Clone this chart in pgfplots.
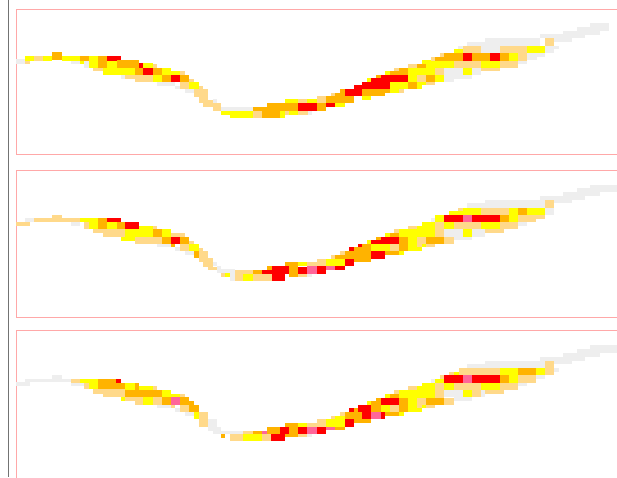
\documentclass[border=0pt]{standalone}
\usepackage{pgfplots}
\pgfplotsset{compat=1.18}
\definecolor{G}{HTML}{EEEEEE}
\definecolor{L}{HTML}{FFD98A}
\definecolor{Y}{HTML}{FFFF00}
\definecolor{O}{HTML}{FFB300}
\definecolor{R}{HTML}{FF0000}
\definecolor{P}{HTML}{FF6699}
\definecolor{frame}{HTML}{FFA8A8}
% cells: colour, x from, x to, y from, y to (values are 3x reference pixels)
\newcommand{\R}[5]{\addplot[draw=none,fill=#1,forget plot] coordinates {(#2,#4)(#3,#4)(#3,#5)(#2,#5)} --cycle;}
% right-hand half: x counted from reference pixel 307
\newcommand{\Q}[5]{\pgfmathsetmacro\xa{#2+921}\pgfmathsetmacro\xb{#3+921}\addplot[draw=none,fill=#1,forget plot] coordinates {(\xa,#4)(\xb,#4)(\xb,#5)(\xa,#5)} --cycle;}
\pgfplotsset{panel/.style={scale only axis,width=624pt,xmin=48,xmax=1920,y dir=reverse,anchor=north west,
  ticks=none,axis line style={draw=frame,line width=0.9pt},clip=true}}
\begin{document}
\begin{tikzpicture}[x=1pt,y=1pt]
\clip (0,0) rectangle (617,-477);
\path[use as bounding box] (0,0) rectangle (617,-477);
\begin{axis}[at={(0pt,0pt)},anchor=north west,scale only axis,width=617pt,height=477pt,xmin=0,xmax=617,ymin=0,ymax=477,y dir=reverse,hide axis]
\addplot[draw=black!55,line width=1pt,forget plot] coordinates {(8.5,0)(8.5,477)};
\end{axis}

% ---------- panel 1
\begin{axis}[panel,at={(16pt,-9pt)},height=145.3pt,ymin=27,ymax=463]
\R{G}{48}{75}{178}{192}\R{G}{212}{252}{182}{192}\R{G}{252}{267}{182}{203}\R{G}{364}{376}{225}{236}
\R{G}{472}{526}{247}{258}\R{G}{526}{540}{258}{268}\R{G}{554}{582}{268}{279}\R{G}{638}{652}{298}{310}\R{G}{652}{664}{310}{322}\R{G}{664}{760}{322}{333}\R{G}{921}{936}{333}{344}
\Q{G}{480}{535}{125}{137}\Q{G}{452}{480}{137}{147}\Q{G}{535}{700}{114}{137}\Q{G}{522}{578}{137}{158}\Q{G}{700}{768}{103}{115}\Q{G}{740}{795}{115}{125}\Q{G}{768}{835}{93}{115}\Q{G}{810}{880}{82}{105}\Q{G}{850}{907}{70}{93}\Q{G}{714}{755}{137}{147}\Q{G}{714}{742}{147}{158}\Q{G}{660}{715}{158}{170}\Q{G}{660}{690}{170}{180}\Q{G}{632}{660}{182}{192}\Q{G}{412}{468}{203}{225}\Q{G}{412}{440}{225}{247}\Q{G}{440}{495}{225}{236}\Q{G}{495}{522}{203}{225}
\R{Y}{75}{102}{168}{182}\R{L}{75}{90}{182}{192}\R{L}{102}{130}{168}{182}\R{Y}{130}{157}{168}{182}\R{O}{157}{186}{157}{181}\R{Y}{186}{240}{168}{182}
\R{Y}{240}{252}{182}{192}\R{O}{240}{267}{168}{182}\R{Y}{267}{294}{168}{203}\R{O}{294}{322}{168}{203}\R{R}{322}{364}{168}{182}\R{Y}{322}{350}{182}{203}\R{O}{350}{418}{180}{203}
\R{L}{280}{308}{203}{214}\R{Y}{308}{404}{203}{225}\R{O}{404}{430}{203}{225}\R{R}{418}{430}{190}{203}\R{Y}{430}{458}{190}{203}\R{L}{458}{472}{192}{203}\R{R}{430}{458}{203}{225}\R{O}{458}{486}{203}{225}\R{Y}{486}{514}{203}{225}\R{Y}{514}{540}{214}{225}\R{L}{540}{555}{214}{225}
\R{L}{376}{404}{225}{236}\R{L}{404}{458}{225}{247}\R{Y}{458}{486}{225}{247}\R{O}{486}{512}{225}{247}\R{R}{512}{540}{225}{247}\R{O}{540}{568}{225}{247}\R{L}{568}{582}{236}{247}
\R{L}{540}{568}{247}{268}\R{Y}{568}{596}{247}{268}\R{L}{596}{610}{258}{268}\R{L}{582}{624}{268}{290}\R{L}{596}{624}{290}{310}\R{L}{610}{638}{300}{322}\R{L}{624}{664}{310}{322}\R{L}{638}{664}{322}{333}
\R{Y}{664}{690}{333}{344}\R{Y}{690}{760}{333}{355}\R{L}{760}{786}{333}{355}\R{O}{760}{800}{322}{333}\R{O}{786}{840}{333}{355}\R{O}{800}{895}{310}{333}\R{Y}{840}{856}{333}{355}\R{Y}{856}{895}{298}{310}\R{L}{895}{921}{298}{310}\R{L}{856}{868}{333}{344}\R{Y}{868}{895}{333}{344}\R{L}{895}{925}{333}{344}\R{R}{895}{921}{310}{333}
\Q{Y}{0}{30}{298}{310}\Q{R}{0}{30}{310}{333}\Q{L}{30}{58}{288}{310}\Q{O}{30}{58}{310}{333}\Q{O}{58}{140}{288}{310}\Q{R}{58}{85}{310}{322}\Q{Y}{85}{113}{310}{322}\Q{O}{85}{113}{278}{288}\Q{L}{72}{85}{278}{288}\Q{O}{98}{113}{266}{278}
\Q{R}{113}{165}{267}{289}\Q{R}{140}{165}{256}{267}\Q{R}{165}{248}{245}{267}\Q{R}{193}{248}{235}{245}\Q{R}{222}{302}{225}{245}\Q{O}{165}{248}{267}{278}\Q{O}{165}{235}{278}{289}\Q{Y}{165}{193}{289}{300}\Q{Y}{248}{302}{245}{267}\Q{Y}{248}{276}{267}{278}\Q{L}{276}{290}{267}{278}\Q{Y}{180}{193}{235}{245}\Q{O}{207}{222}{225}{235}\Q{Y}{234}{248}{214}{225}\Q{O}{248}{276}{214}{225}\Q{O}{276}{302}{203}{225}\Q{L}{262}{276}{203}{214}
\Q{Y}{302}{330}{203}{245}\Q{Y}{330}{358}{203}{225}\Q{Y}{358}{385}{180}{225}\Q{L}{385}{412}{203}{225}\Q{O}{302}{330}{245}{267}\Q{Y}{330}{344}{245}{267}\Q{Y}{344}{358}{245}{256}\Q{L}{330}{358}{225}{245}\Q{O}{358}{385}{225}{245}\Q{Y}{385}{412}{225}{245}\Q{L}{358}{385}{245}{256}\Q{L}{302}{330}{192}{203}\Q{O}{330}{358}{192}{203}\Q{Y}{344}{358}{180}{192}
\Q{Y}{385}{440}{182}{203}\Q{L}{440}{522}{182}{203}\Q{Y}{522}{578}{182}{203}\Q{L}{578}{632}{182}{203}\Q{L}{522}{578}{203}{213}\Q{Y}{468}{495}{203}{225}
\Q{O}{385}{412}{170}{182}\Q{L}{372}{385}{170}{182}\Q{L}{398}{412}{158}{170}\Q{O}{412}{468}{158}{182}\Q{Y}{440}{468}{148}{158}\Q{R}{468}{495}{158}{182}\Q{O}{495}{550}{158}{182}\Q{R}{550}{578}{158}{182}\Q{O}{578}{605}{158}{182}\Q{Y}{605}{632}{158}{182}\Q{L}{632}{660}{158}{182}\Q{L}{468}{522}{137}{158}\Q{L}{578}{660}{137}{158}\Q{Y}{660}{713}{137}{158}\Q{L}{713}{740}{115}{137}
\end{axis}

% ---------- panel 2
\begin{axis}[panel,at={(16pt,-170pt)},height=147.3pt,ymin=30,ymax=472]
\R{G}{75}{102}{175}{186}\R{G}{212}{240}{186}{198}\R{G}{472}{512}{253}{262}\R{G}{526}{540}{262}{272}\R{G}{554}{582}{273}{284}\R{G}{638}{650}{306}{318}\R{G}{650}{664}{318}{340}\R{G}{664}{705}{328}{340}\R{G}{690}{705}{340}{363}\R{G}{921}{936}{341}{352}
\Q{G}{480}{535}{130}{143}\Q{G}{535}{713}{120}{143}\Q{G}{700}{770}{108}{120}\Q{G}{740}{795}{120}{130}\Q{G}{713}{740}{143}{165}\Q{G}{768}{835}{97}{120}\Q{G}{810}{880}{85}{108}\Q{G}{850}{930}{74}{97}\Q{G}{632}{660}{186}{197}\Q{G}{412}{468}{208}{230}\Q{G}{495}{535}{208}{231}\Q{G}{440}{495}{231}{241}\Q{G}{372}{385}{175}{186}
\R{L}{48}{90}{186}{198}\R{L}{102}{157}{175}{186}\R{L}{157}{186}{164}{186}\R{L}{186}{240}{175}{186}\R{Y}{240}{267}{175}{186}\R{L}{252}{267}{186}{208}\R{Y}{267}{294}{175}{208}\R{O}{294}{322}{175}{208}\R{R}{322}{364}{175}{186}\R{Y}{322}{350}{186}{208}\R{O}{350}{375}{186}{208}\R{R}{375}{418}{186}{208}
\R{L}{280}{308}{208}{220}\R{L}{308}{375}{208}{231}\R{Y}{418}{458}{197}{208}\R{L}{458}{472}{197}{208}\R{Y}{375}{458}{208}{231}\R{Y}{364}{404}{231}{242}\R{L}{404}{486}{231}{253}\R{O}{458}{486}{208}{231}\R{Y}{486}{514}{208}{231}\R{L}{514}{555}{220}{231}\R{O}{486}{512}{231}{253}\R{R}{512}{540}{231}{253}\R{O}{540}{568}{231}{253}\R{L}{568}{582}{242}{253}\R{O}{512}{526}{253}{262}\R{L}{540}{568}{253}{273}\R{Y}{568}{596}{253}{273}
\R{O}{582}{596}{273}{295}\R{L}{596}{624}{273}{295}\R{L}{596}{610}{264}{273}\R{L}{596}{638}{295}{306}\R{L}{610}{638}{306}{320}\R{L}{624}{650}{320}{330}
\R{L}{664}{676}{340}{352}\R{Y}{676}{690}{340}{352}\R{L}{705}{760}{330}{341}\R{L}{705}{730}{341}{363}\R{Y}{730}{760}{341}{363}\R{L}{760}{815}{341}{363}\R{O}{760}{786}{330}{341}\R{R}{786}{815}{330}{341}\R{O}{800}{815}{318}{330}\R{R}{815}{868}{318}{341}\R{R}{815}{856}{341}{363}\R{O}{856}{895}{307}{318}\R{O}{868}{895}{318}{352}\R{Y}{895}{921}{307}{318}\R{R}{895}{921}{320}{341}\R{L}{895}{921}{341}{352}
\Q{L}{0}{30}{307}{318}\Q{P}{0}{30}{318}{341}\Q{R}{30}{58}{318}{341}\Q{L}{30}{58}{296}{318}\Q{Y}{58}{113}{296}{318}\Q{P}{58}{85}{318}{330}\Q{R}{85}{113}{318}{330}\Q{L}{72}{85}{285}{296}\Q{O}{85}{113}{285}{296}\Q{L}{98}{113}{274}{285}\Q{R}{125}{140}{262}{274}\Q{R}{113}{140}{296}{318}\Q{O}{113}{140}{274}{296}\Q{O}{140}{193}{262}{296}\Q{R}{153}{165}{252}{262}\Q{O}{165}{193}{252}{262}\Q{O}{140}{193}{296}{307}\Q{Y}{180}{193}{241}{252}
\Q{R}{193}{235}{274}{296}\Q{R}{193}{222}{241}{252}\Q{R}{222}{276}{231}{252}\Q{O}{207}{222}{231}{241}\Q{Y}{193}{248}{252}{274}\Q{L}{248}{276}{252}{274}\Q{O}{235}{276}{274}{285}\Q{Y}{276}{290}{274}{285}\Q{O}{276}{302}{231}{274}\Q{Y}{234}{248}{220}{231}\Q{O}{248}{276}{220}{231}\Q{L}{262}{276}{208}{220}\Q{Y}{276}{302}{208}{231}
\Q{Y}{302}{330}{208}{274}\Q{L}{302}{330}{197}{208}\Q{Y}{330}{385}{197}{231}\Q{Y}{344}{385}{186}{197}\Q{L}{330}{358}{231}{262}\Q{Y}{330}{344}{262}{274}\Q{Y}{344}{358}{252}{262}\Q{L}{358}{385}{252}{262}\Q{O}{358}{412}{231}{252}\Q{L}{412}{440}{231}{252}\Q{L}{385}{412}{186}{231}\Q{Y}{385}{412}{165}{186}
\Q{R}{412}{468}{165}{186}\Q{P}{468}{495}{165}{186}\Q{R}{495}{578}{165}{186}\Q{O}{578}{605}{165}{186}\Q{Y}{605}{632}{143}{186}\Q{Y}{412}{440}{186}{208}\Q{L}{440}{522}{186}{208}\Q{Y}{522}{578}{186}{208}\Q{L}{578}{632}{186}{208}\Q{L}{535}{590}{208}{218}\Q{Y}{468}{495}{208}{231}\Q{Y}{426}{468}{153}{165}\Q{L}{452}{468}{143}{153}\Q{Y}{468}{522}{143}{165}\Q{L}{522}{605}{143}{165}\Q{O}{632}{660}{143}{165}\Q{Y}{660}{713}{143}{165}\Q{L}{632}{713}{165}{176}\Q{L}{632}{688}{176}{186}\Q{L}{713}{740}{120}{143}
\end{axis}

% ---------- panel 3
\begin{axis}[panel,at={(16pt,-330.7pt)},height=160pt,ymin=32,ymax=512]
\R{G}{48}{90}{186}{198}\R{G}{75}{157}{177}{186}\R{G}{157}{186}{165}{186}\R{G}{186}{212}{177}{186}\R{G}{212}{252}{188}{198}\R{G}{472}{512}{254}{264}\R{G}{526}{540}{264}{276}\R{G}{554}{582}{276}{287}\R{G}{624}{650}{298}{332}\R{G}{638}{664}{320}{342}\R{G}{664}{730}{332}{342}\R{G}{921}{936}{342}{352}
\Q{G}{480}{535}{132}{144}\Q{G}{535}{713}{122}{144}\Q{G}{700}{770}{110}{122}\Q{G}{740}{795}{122}{133}\Q{G}{740}{755}{144}{155}\Q{G}{768}{835}{99}{122}\Q{G}{810}{880}{88}{110}\Q{G}{850}{930}{76}{99}\Q{G}{688}{713}{166}{177}\Q{G}{632}{660}{188}{199}\Q{G}{412}{468}{210}{232}\Q{G}{522}{535}{210}{232}\Q{G}{440}{495}{232}{243}\Q{G}{372}{385}{177}{188}
\R{L}{212}{240}{177}{188}\R{Y}{240}{267}{177}{188}\R{Y}{267}{294}{177}{208}\R{L}{252}{267}{188}{208}\R{O}{294}{347}{177}{208}\R{O}{347}{375}{188}{208}\R{R}{347}{364}{177}{188}\R{Y}{375}{404}{188}{210}\R{O}{404}{418}{188}{210}\R{Y}{418}{458}{198}{210}\R{L}{458}{472}{198}{210}\R{O}{375}{486}{210}{232}\R{Y}{486}{514}{210}{232}\R{L}{280}{308}{208}{221}\R{L}{308}{375}{208}{232}\R{Y}{514}{540}{221}{232}\R{L}{540}{555}{221}{232}
\R{Y}{362}{375}{232}{243}\R{L}{375}{430}{232}{243}\R{L}{404}{430}{243}{254}\R{Y}{430}{458}{232}{254}\R{L}{458}{486}{232}{254}\R{O}{486}{512}{232}{254}\R{P}{512}{540}{232}{254}\R{O}{540}{568}{232}{254}\R{O}{568}{582}{243}{254}\R{O}{568}{596}{254}{276}\R{L}{540}{568}{254}{276}\R{L}{512}{526}{254}{264}\R{Y}{582}{596}{276}{298}\R{L}{596}{624}{276}{320}
\R{O}{664}{676}{342}{354}\R{L}{690}{730}{342}{364}\R{L}{730}{760}{332}{342}\R{Y}{730}{786}{342}{364}\R{O}{760}{786}{332}{342}\R{P}{786}{813}{332}{342}\R{L}{786}{813}{342}{364}\R{O}{800}{840}{320}{342}\R{R}{840}{868}{320}{342}\R{R}{813}{856}{342}{364}\R{O}{856}{895}{309}{352}\R{R}{840}{868}{320}{342}\R{Y}{895}{921}{309}{320}\R{R}{895}{921}{320}{342}\R{L}{895}{921}{342}{352}
\Q{L}{0}{30}{309}{320}\Q{P}{0}{30}{320}{342}\Q{R}{30}{58}{320}{342}\Q{L}{30}{58}{298}{320}\Q{Y}{58}{85}{298}{320}\Q{Y}{85}{113}{287}{320}\Q{P}{58}{85}{320}{330}\Q{O}{85}{113}{320}{330}\Q{R}{113}{140}{298}{320}\Q{L}{72}{85}{287}{298}\Q{L}{98}{113}{276}{287}\Q{R}{125}{140}{265}{276}\Q{O}{113}{140}{276}{298}\Q{O}{140}{165}{265}{310}\Q{R}{153}{193}{254}{276}\Q{R}{165}{193}{276}{298}\Q{O}{165}{193}{298}{310}\Q{Y}{180}{193}{243}{254}
\Q{O}{193}{222}{243}{276}\Q{P}{193}{222}{276}{298}\Q{R}{222}{235}{276}{298}\Q{O}{207}{222}{233}{243}\Q{Y}{222}{248}{254}{276}\Q{L}{248}{276}{254}{276}\Q{R}{222}{276}{233}{254}\Q{O}{235}{276}{276}{287}\Q{Y}{276}{290}{276}{287}\Q{O}{276}{302}{233}{276}\Q{Y}{234}{248}{222}{233}\Q{O}{248}{276}{222}{233}\Q{L}{262}{276}{210}{221}\Q{Y}{276}{302}{210}{233}
\Q{Y}{302}{330}{210}{276}\Q{L}{302}{330}{199}{210}\Q{Y}{330}{385}{199}{233}\Q{Y}{344}{385}{188}{199}\Q{L}{330}{358}{233}{264}\Q{Y}{330}{344}{264}{276}\Q{Y}{344}{358}{254}{264}\Q{L}{358}{385}{254}{264}\Q{O}{358}{412}{233}{254}\Q{L}{412}{440}{233}{254}\Q{L}{385}{412}{188}{233}\Q{Y}{385}{412}{177}{188}
\Q{R}{412}{468}{166}{188}\Q{P}{468}{495}{166}{188}\Q{R}{495}{578}{166}{188}\Q{O}{578}{605}{166}{188}\Q{Y}{605}{632}{144}{188}\Q{Y}{412}{440}{188}{210}\Q{L}{440}{522}{188}{210}\Q{Y}{522}{578}{188}{210}\Q{L}{578}{632}{188}{210}\Q{L}{535}{590}{210}{221}\Q{Y}{468}{495}{210}{232}\Q{L}{495}{522}{210}{232}\Q{L}{400}{412}{166}{177}\Q{L}{426}{440}{155}{166}\Q{Y}{440}{468}{155}{166}\Q{L}{455}{578}{144}{166}\Q{Y}{578}{632}{144}{166}\Q{O}{632}{688}{144}{166}\Q{Y}{688}{713}{144}{166}\Q{L}{713}{740}{122}{166}\Q{L}{632}{688}{166}{188}
\end{axis}
\end{tikzpicture}
\end{document}
